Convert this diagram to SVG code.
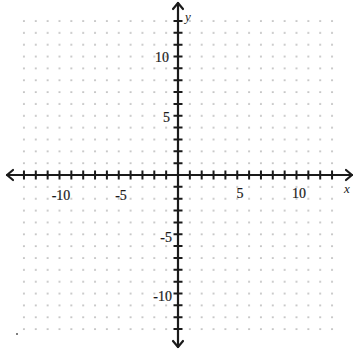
<svg xmlns="http://www.w3.org/2000/svg" width="355" height="354" viewBox="0 0 355 354">
<style>
.ax{stroke:#1a1a1a;stroke-width:2.2;fill:none;stroke-linecap:round;stroke-linejoin:round}
.tk{stroke:#1a1a1a;stroke-width:2;fill:none}
.lb{font-family:"Liberation Serif","Times New Roman",serif;font-size:14px;fill:#1a1a1a;stroke:#1a1a1a;stroke-width:0.2}
.var{font-family:"Liberation Serif","Times New Roman",serif;font-size:13px;font-style:italic;fill:#1a1a1a}
</style>
<defs>
<pattern id="dots" patternUnits="userSpaceOnUse" x="172.075" y="169.075" width="11.85" height="11.85">
<circle cx="5.925" cy="5.925" r="0.85" fill="#9a9a9a"/>
</pattern>
</defs>
<rect width="355" height="354" fill="#fff"/>
<g id="grid">
<rect x="18" y="15" width="320" height="320" fill="url(#dots)"/>
<circle cx="17" cy="334" r="1" fill="#555"/>
</g>
<g id="axes">
<path class="ax" d="M7 175 H352 M178 3 V347"/>
<path class="ax" d="M13 170 L7 175 L13 180 M346 170 L352 175 L346 180 M173 9 L178 3 L183 9 M173 341 L178 347 L183 341"/>
<path class="tk" d="M23.95 170.5v9M35.8 170.5v9M47.65 170.5v9M59.5 170.5v9M71.35 170.5v9M83.2 170.5v9M95.05 170.5v9M106.9 170.5v9M118.75 170.5v9M130.6 170.5v9M142.45 170.5v9M154.3 170.5v9M166.15 170.5v9M189.85 170.5v9M201.7 170.5v9M213.55 170.5v9M225.4 170.5v9M237.25 170.5v9M249.1 170.5v9M260.95 170.5v9M272.8 170.5v9M284.65 170.5v9M296.5 170.5v9M308.35 170.5v9M320.2 170.5v9M332.05 170.5v9"/>
<path class="tk" d="M173.5 20.95h9M173.5 32.8h9M173.5 44.65h9M173.5 56.5h9M173.5 68.35h9M173.5 80.2h9M173.5 92.05h9M173.5 103.9h9M173.5 115.75h9M173.5 127.6h9M173.5 139.45h9M173.5 151.3h9M173.5 163.15h9M173.5 186.85h9M173.5 198.7h9M173.5 210.55h9M173.5 222.4h9M173.5 234.25h9M173.5 246.1h9M173.5 257.95h9M173.5 269.8h9M173.5 281.65h9M173.5 293.5h9M173.5 305.35h9M173.5 317.2h9M173.5 329.05h9"/>
</g>
<g id="labels">
<text class="lb" x="61" y="200" text-anchor="middle">-10</text>
<text class="lb" x="121" y="200" text-anchor="middle">-5</text>
<text class="lb" x="240" y="198" text-anchor="middle">5</text>
<text class="lb" x="299" y="198" text-anchor="middle">10</text>
<text class="lb" x="169" y="62" text-anchor="end">10</text>
<text class="lb" x="170" y="122" text-anchor="end">5</text>
<text class="lb" x="172" y="242" text-anchor="end">-5</text>
<text class="lb" x="172" y="301" text-anchor="end">-10</text>
<text class="var" x="185" y="21">y</text>
<text class="var" x="344" y="193">x</text>
</g>
</svg>
